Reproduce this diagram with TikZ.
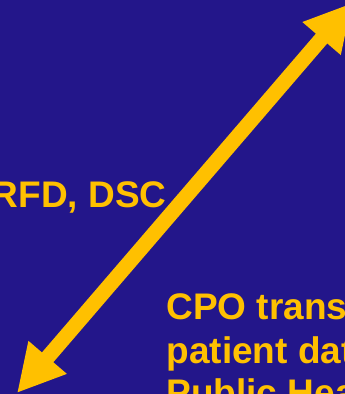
\documentclass[tikz,border=0pt]{standalone}
\usepackage{fontspec}
\setmainfont{Liberation Sans}
\usetikzlibrary{arrows.meta}
\definecolor{bgblue}{RGB}{35,22,138}
\definecolor{arrowyellow}{RGB}{255,192,0}
\tikzset{
  lbl/.style={text=arrowyellow, font=\bfseries\fontsize{37pt}{43pt}\selectfont, inner sep=0pt, outer sep=0pt},
  bigarrow/.style={draw=arrowyellow, line width=15pt,
    {Triangle[length=47pt,width=47pt]}-{Triangle[length=47pt,width=47pt]}}
}
\begin{document}
\begin{tikzpicture}[x=1pt,y=1pt]
\useasboundingbox (0,0) rectangle (345,394);
\clip (0,0) rectangle (345,394);
\fill[bgblue] (0,0) rectangle (345,394);
\coordinate (lowtip) at (17,1);
\coordinate (hightip) at (352.2,391.1);
\draw[bigarrow] (lowtip) -- (hightip);
\node[lbl, anchor=base east] (rfd) at (166.5,186) {RFD, DSC};
\node[lbl, anchor=base west, align=left] (cpo) at (166.5,-12) {CPO trans\\patient dat\\Public Hea};
\end{tikzpicture}
\end{document}
